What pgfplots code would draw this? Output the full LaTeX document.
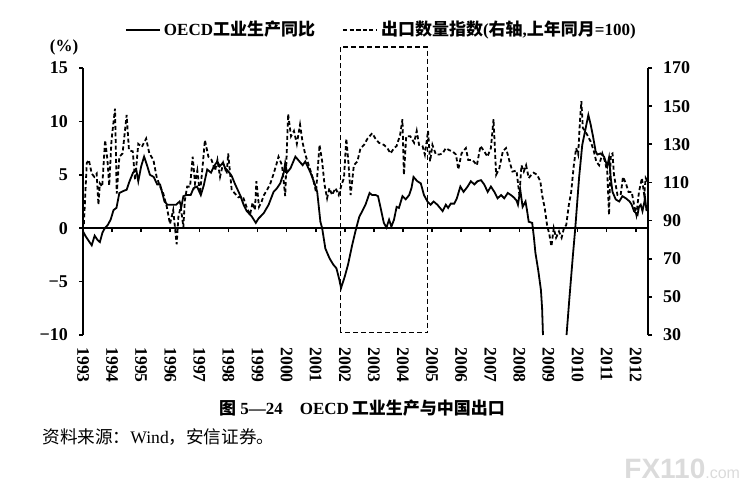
\documentclass[border=0pt]{standalone}
\usepackage{pgfplots}
\pgfplotsset{compat=1.18}
\usepackage{fontspec}
\setmainfont{Liberation Serif}
\newfontfamily\cjk{Noto Sans CJK SC}
\newfontfamily\wm{Liberation Sans}
\newcommand\tickfont{\fontsize{9}{10}\selectfont\bfseries}
\newcommand\yearfont{\fontsize{8.8}{10}\selectfont\bfseries}
\newcommand\legfont{\fontsize{8.5}{10}\selectfont\bfseries}
\begin{document}
\begin{tikzpicture}
\useasboundingbox (0,0) rectangle (377pt,244pt);
% ---------------- left axis: OECD industrial production yoy ----------------
\begin{axis}[
  at={(41.5pt,76.5pt)}, anchor=south west,
  scale only axis, width=282.5pt, height=133.5pt,
  xmin=1993, xmax=2012.42, ymin=-10, ymax=15,
  axis y line*=left, axis x line*=middle,
  axis line style={-, line width=0.8pt},
  ytick={-10,-5,0,5,10,15},
  yticklabels={−10,−5,0,5,10,15},
  xtick={1993,1994,...,2012}, xticklabels={},
  tick align=outside, major tick length=2pt,
  tick style={line width=0.8pt, black},
  yticklabel style={font=\tickfont, xshift=-2pt},
  /pgf/number format/assume math mode=true,
  clip=false,
  legend columns=2,
  legend style={draw=none, fill=none, at={(0.529,1.142)}, anchor=center,
    font=\legfont, /tikz/every even column/.append style={column sep=12pt},
    nodes={inner sep=1.5pt}},
]
\addplot[black, line width=0.9pt] coordinates {
(1993.00,-0.3) (1993.10,-0.8) (1993.20,-1.2) (1993.30,-1.6) (1993.40,-0.7)
(1993.50,-1.1) (1993.58,-1.3) (1993.67,-0.4) (1993.75,0.0) (1993.85,0.3)
(1993.95,0.8) (1994.05,1.7) (1994.15,1.9) (1994.25,3.3) (1994.40,3.5)
(1994.50,3.6) (1994.60,4.4) (1994.72,5.2) (1994.83,5.5) (1994.90,4.4)
(1995.00,5.8) (1995.10,6.7) (1995.20,5.9) (1995.30,5.0) (1995.43,4.8)
(1995.55,4.1) (1995.65,4.1) (1995.80,2.5) (1995.90,2.2) (1996.05,2.2)
(1996.20,2.2) (1996.32,2.5) (1996.38,2.0) (1996.45,3.0) (1996.55,3.1)
(1996.70,3.1) (1996.80,3.75) (1996.92,3.9) (1997.05,3.1) (1997.15,4.0)
(1997.27,5.5) (1997.40,5.2) (1997.50,5.8) (1997.62,6.25) (1997.70,5.8)
(1997.80,6.1) (1997.90,5.6) (1998.00,5.3) (1998.11,4.9) (1998.23,4.1)
(1998.40,3.1) (1998.52,2.2) (1998.63,1.6) (1998.80,1.1) (1998.94,0.5)
(1999.03,0.9) (1999.21,1.4) (1999.38,2.2) (1999.55,3.4) (1999.67,3.75)
(1999.78,4.2) (1999.90,5.2) (1999.95,6.1) (2000.01,5.2) (2000.13,5.6)
(2000.30,6.7) (2000.44,6.25) (2000.55,5.9) (2000.64,6.25) (2000.82,5.2)
(2000.97,4.1) (2001.05,3.4) (2001.16,0.6) (2001.22,0.0) (2001.33,-1.9)
(2001.47,-2.8) (2001.60,-3.4) (2001.71,-3.75) (2001.80,-4.7) (2001.87,-5.6)
(2002.00,-4.5) (2002.11,-3.4) (2002.25,-1.6) (2002.39,0.0) (2002.50,1.1)
(2002.60,1.6) (2002.71,2.2) (2002.85,3.3) (2002.94,3.1) (2003.06,3.1)
(2003.14,3.0) (2003.23,1.9) (2003.34,0.5) (2003.43,0.06) (2003.52,0.8)
(2003.60,0.15) (2003.69,0.8) (2003.78,2.0) (2003.86,1.9) (2003.98,3.0)
(2004.09,2.7) (2004.21,3.1) (2004.29,3.75) (2004.36,4.8) (2004.49,4.4)
(2004.61,4.2) (2004.72,3.1) (2004.84,2.5) (2004.95,2.2) (2005.05,2.5)
(2005.18,2.2) (2005.36,1.6) (2005.47,2.2) (2005.55,1.9) (2005.64,2.3)
(2005.76,2.3) (2005.85,2.8) (2005.97,3.9) (2006.08,3.4) (2006.22,3.9)
(2006.33,4.4) (2006.45,4.1) (2006.56,4.4) (2006.68,4.5) (2006.79,4.1)
(2006.91,3.4) (2007.02,3.9) (2007.14,3.4) (2007.25,2.8) (2007.37,3.1)
(2007.48,2.8) (2007.60,3.3) (2007.71,3.1) (2007.80,2.9) (2007.90,2.6)
(2007.95,2.2) (2008.03,3.6) (2008.11,2.0) (2008.21,2.5) (2008.26,1.7)
(2008.32,0.6) (2008.44,0.5) (2008.50,-0.9) (2008.55,-2.3) (2008.65,-4.0)
(2008.74,-5.8) (2008.78,-7.5) (2008.81,-10)
};
\addlegendentry{OECD{\cjk 工业生产同比}}
\addplot[black, line width=0.9pt, forget plot] coordinates {
(2009.62,-10) (2009.72,-6.5) (2009.84,-2.5) (2009.92,0.0) (2010.05,4.7)
(2010.16,7.8) (2010.28,9.4) (2010.37,10.6) (2010.45,9.7) (2010.53,8.6)
(2010.62,7.2) (2010.68,6.9) (2010.79,7.0) (2010.91,6.7) (2011.02,5.8)
(2011.08,6.6) (2011.14,4.7) (2011.20,3.4) (2011.31,2.7) (2011.43,2.5)
(2011.54,3.0) (2011.66,2.8) (2011.79,2.5) (2011.86,2.2) (2011.94,1.6)
(2012.06,1.25) (2012.11,2.0) (2012.17,2.2) (2012.23,1.6) (2012.32,2.8)
(2012.37,1.6)
};
\addlegendimage{black, line width=0.9pt, dash pattern=on 2pt off 1.3pt}
\addlegendentry{{\cjk 出口数量指数}({\cjk 右轴},{\cjk 上年同月}=100)}
\draw[black, line width=0.6pt, dash pattern=on 2.5pt off 1.5pt]
  (axis cs:2001.85,-9.75) rectangle (axis cs:2004.85,16.96);
\end{axis}
% ---------------- right axis: export volume index ----------------
\begin{axis}[
  at={(41.5pt,76.5pt)}, anchor=south west,
  scale only axis, width=282.5pt, height=133.5pt,
  xmin=1993, xmax=2012.42, ymin=30, ymax=170,
  axis y line*=right, axis x line=none,
  axis line style={-, line width=0.8pt},
  ytick={30,50,...,170},
  tick align=outside, major tick length=2pt,
  tick style={line width=0.8pt, black},
  yticklabel style={font=\tickfont, xshift=2pt},
  /pgf/number format/assume math mode=true,
  clip=false,
]
\addplot[black, line width=0.9pt, dash pattern=on 2pt off 1.3pt] coordinates {
(1993.03,88.2) (1993.13,120.2) (1993.20,121.8) (1993.30,114.6) (1993.39,112.9)
(1993.47,114.6) (1993.53,98.3) (1993.58,109.5) (1993.66,107.8) (1993.76,132.2)
(1993.84,121.8) (1993.90,108.4) (1993.98,132.2) (1994.10,148.7) (1994.16,104.2)
(1994.25,123.5) (1994.36,125.2) (1994.50,145.4) (1994.58,126.9) (1994.71,126.3)
(1994.79,111.2) (1994.90,130.2) (1995.02,128.6) (1995.17,133.0) (1995.28,125.2)
(1995.42,121.8) (1995.53,112.9) (1995.65,107.8) (1995.76,104.2) (1995.88,97.2)
(1995.99,88.2) (1996.10,95.5) (1996.22,77.6) (1996.28,92.2) (1996.36,97.2)
(1996.45,86.6) (1996.50,100.6) (1996.58,107.8) (1996.68,107.8) (1996.77,123.5)
(1996.85,109.5) (1996.93,116.2) (1997.02,104.2) (1997.11,118.2) (1997.19,132.2)
(1997.31,123.5) (1997.42,121.8) (1997.54,116.2) (1997.62,121.8) (1997.71,112.9)
(1997.82,120.2) (1997.94,114.6) (1997.99,125.2) (1998.11,106.2) (1998.22,104.2)
(1998.34,102.2) (1998.49,102.8) (1998.62,97.2) (1998.74,93.0) (1998.83,99.4)
(1998.91,95.5) (1998.96,110.6) (1999.05,97.2) (1999.14,100.0) (1999.22,103.4)
(1999.31,105.6) (1999.43,109.0) (1999.54,114.0) (1999.65,119.6) (1999.72,123.5)
(1999.84,119.0) (1999.95,102.8) (2000.05,145.9) (2000.15,134.2) (2000.25,137.0)
(2000.35,130.2) (2000.46,140.3) (2000.55,130.8) (2000.64,124.6) (2000.76,119.0)
(2000.90,112.3) (2001.01,105.0) (2001.13,129.7) (2001.22,121.0) (2001.30,109.0)
(2001.39,101.7) (2001.47,107.0) (2001.56,103.4) (2001.68,107.0) (2001.79,103.4)
(2001.89,109.0) (2001.97,112.3) (2002.05,133.0) (2002.12,121.0) (2002.20,103.4)
(2002.31,119.0) (2002.43,121.0) (2002.54,128.0) (2002.66,129.7) (2002.78,133.0)
(2002.94,135.8) (2003.05,133.0) (2003.17,130.8) (2003.34,129.7) (2003.46,128.0)
(2003.57,125.2) (2003.69,128.0) (2003.78,129.1) (2003.90,135.0) (2003.98,143.1)
(2004.03,114.0) (2004.11,134.2) (2004.25,134.2) (2004.38,130.8) (2004.47,137.0)
(2004.55,129.7) (2004.67,129.1) (2004.75,124.6) (2004.86,137.0) (2004.93,121.0)
(2005.01,129.7) (2005.13,124.6) (2005.24,124.6) (2005.36,125.2) (2005.47,128.0)
(2005.59,126.9) (2005.70,126.3) (2005.82,124.6) (2005.90,116.8) (2006.01,125.2)
(2006.16,128.0) (2006.24,121.8) (2006.39,121.8) (2006.54,119.0) (2006.66,129.1)
(2006.79,126.3) (2006.90,123.5) (2007.02,128.0) (2007.11,143.1) (2007.20,114.0)
(2007.31,117.4) (2007.43,126.3) (2007.54,128.0) (2007.66,121.0) (2007.76,115.7)
(2007.90,116.2) (2008.00,103.4) (2008.07,119.0) (2008.15,115.7) (2008.23,119.0)
(2008.32,112.3) (2008.41,114.0) (2008.49,115.1) (2008.61,114.0) (2008.72,110.6)
(2008.78,103.4) (2008.87,96.6) (2008.95,87.7) (2009.03,82.6) (2009.10,76.5)
(2009.18,86.0) (2009.26,81.0) (2009.36,84.3) (2009.45,81.0) (2009.53,86.0)
(2009.61,87.7) (2009.70,98.3) (2009.78,105.0) (2009.87,119.0) (2009.95,128.0)
(2010.02,124.6) (2010.08,142.0) (2010.13,152.6) (2010.18,138.6) (2010.25,137.0)
(2010.33,135.0) (2010.45,131.4) (2010.56,126.3) (2010.64,121.0) (2010.74,119.0)
(2010.85,125.2) (2010.94,121.0) (2011.02,115.7) (2011.08,93.0) (2011.14,124.6)
(2011.20,125.2) (2011.25,114.0) (2011.37,103.4) (2011.48,103.4) (2011.56,112.9)
(2011.66,109.5) (2011.75,105.0) (2011.86,105.0) (2011.94,98.3) (2012.02,93.0)
(2012.11,105.0) (2012.21,112.3) (2012.29,103.4) (2012.34,112.3) (2012.40,110.6)
};
\end{axis}
% ---------------- year labels at the bottom ----------------
\begin{axis}[
  at={(41.5pt,76.5pt)}, anchor=south west,
  scale only axis, width=282.5pt, height=133.5pt,
  xmin=1993, xmax=2012.42, ymin=0, ymax=1,
  axis y line=none, axis x line*=bottom,
  x axis line style={draw=none},
  xtick={1993,1994,...,2012},
  xticklabels={1993,1994,1995,1996,1997,1998,1999,2000,2001,2002,2003,2004,2005,2006,2007,2008,2009,2010,2011,2012},
  major tick length=0pt, tick style={draw=none},
  xticklabel shift=5pt,
  xticklabel style={rotate=-90, anchor=west, font=\yearfont, inner sep=1pt},
]
\end{axis}
% ---------------- texts ----------------
\node[font=\fontsize{8.5}{10}\selectfont\bfseries] at (32pt,220.5pt) {(\%)};
\node[font=\fontsize{8.5}{10}\selectfont\bfseries] at (181pt,40pt)
  {{\cjk 图} 5—24\hspace{1em}OECD\,{\cjk 工业生产与中国出口}};
\node[font=\fontsize{8.8}{11}\selectfont, anchor=west, inner sep=0pt] at (21pt,25.5pt)
  {{\cjk 资料来源：}Wind{\cjk ，安信证券。}};
\node[anchor=base west, text=black!14, inner sep=0pt] at (312pt,5pt)
  {\wm\bfseries\fontsize{14}{14}\selectfont FX110{\mdseries\fontsize{8}{8}\selectfont .com}};
\end{tikzpicture}
\end{document}
